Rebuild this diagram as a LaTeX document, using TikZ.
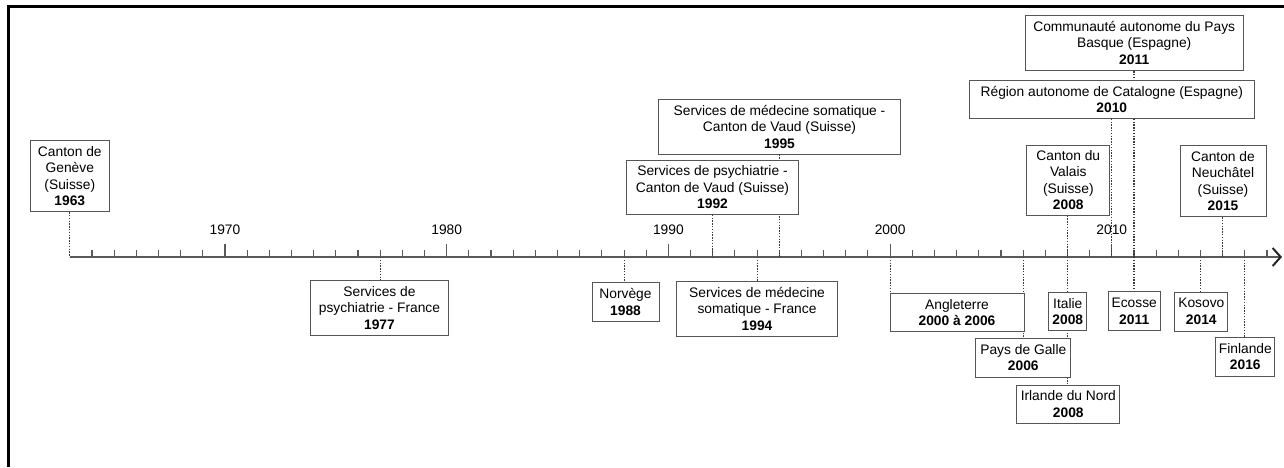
\documentclass[tikz,border=0pt]{standalone}
\usepackage{fontspec}
\setmainfont{Liberation Sans}
\usetikzlibrary{arrows.meta}
\pgfdeclarelayer{bg}
\pgfsetlayers{bg,main}
\definecolor{boxc}{HTML}{555555}
\definecolor{axc}{HTML}{5A5A5A}
\definecolor{conc}{HTML}{3A3A3A}
\newcommand{\boxfont}{\fontsize{13.8}{16.4}\selectfont}
\begin{document}
\begin{tikzpicture}[x=1pt,y=-1pt,
  box/.style={draw=boxc, fill=white, line width=1pt, inner sep=0pt, align=center, font=\boxfont},
  conn/.style={draw=conc, line width=1.1pt, dash pattern=on 1.4pt off 1.4pt},
  axisline/.style={draw=axc, line width=1.6pt},
  tickline/.style={draw=axc, line width=1.1pt},
  yearlab/.style={font=\boxfont, inner sep=0pt}
]
\useasboundingbox (0,0) rectangle (1284,467);
% frame
\draw[line width=2.6pt] (8.6,467) -- (8.6,6.6) -- (1284,6.6);

% axis coordinates
\foreach \yr in {1963,1977,1988,1992,1994,1995,2000,2006,2008,2010,2011,2014,2015,2016}
  \coordinate (y\yr) at ({69.8+(\yr-1963)*22.17},257);
\coordinate (axisend) at (1282,257);

% boxes
\node[box, minimum width=78.6, minimum height=71] (gen) at (69.8,176.2) {Canton de\\Genève\\(Suisse)\\\textbf{1963}};
\node[box, minimum width=137.6, minimum height=54.3] (psyF) at (379.5,307.9) {Services de\\psychiatrie - France\\\textbf{1977}};
\node[box, minimum width=242.4, minimum height=54.7] (vaudS) at (779.5,126.7) {Services de médecine somatique -\\Canton de Vaud (Suisse)\\\textbf{1995}};
\node[box, minimum width=171.6, minimum height=54.3] (vaudP) at (712.5,187.2) {Services de psychiatrie -\\Canton de Vaud (Suisse)\\\textbf{1992}};
\node[box, minimum width=67, minimum height=39] (norv) at (625.5,302) {Norvège\\\textbf{1988}};
\node[box, minimum width=160.6, minimum height=54.3] (medF) at (757,308.9) {Services de médecine\\somatique - France\\\textbf{1994}};
\node[box, minimum width=218.3, minimum height=55.7] (basque) at (1134.2,42.9) {Communauté autonome du Pays\\Basque (Espagne)\\\textbf{2011}};
\node[box, minimum width=285, minimum height=37.6] (catal) at (1111.8,99.5) {Région autonome de Catalogne (Espagne)\\\textbf{2010}};
\node[box, minimum width=83.3, minimum height=70] (valais) at (1068.3,180) {Canton du\\Valais\\(Suisse)\\\textbf{2008}};
\node[box, minimum width=86, minimum height=71] (neuch) at (1223,181.2) {Canton de\\Neuchâtel\\(Suisse)\\\textbf{2015}};
\node[box, minimum width=134, minimum height=38.4] (angl) at (957,312.5) {Angleterre\\\textbf{2000 à 2006}};
\node[box, minimum width=94.7, minimum height=39] (galles) at (1023.3,357.8) {Pays de Galle\\\textbf{2006}};
\node[box, minimum width=103.3, minimum height=38.3] (irl) at (1068.3,404.2) {Irlande du Nord\\\textbf{2008}};
\node[box, minimum width=37.7, minimum height=38.4] (ital) at (1067.8,311.5) {Italie\\\textbf{2008}};
\node[box, minimum width=51.7, minimum height=39] (ecosse) at (1134.2,311.2) {Ecosse\\\textbf{2011}};
\node[box, minimum width=52.7, minimum height=39] (kosovo) at (1201.3,311.5) {Kosovo\\\textbf{2014}};
\node[box, minimum width=59.3, minimum height=38.7] (finl) at (1245.3,356.7) {Finlande\\\textbf{2016}};

% decade labels
\foreach \d in {1970,1980,1990,2000,2010}
  \node[yearlab] (lab\d) at ({69.8+(\d-1963)*22.17},230) {\d};

\begin{pgfonlayer}{bg}
  % ticks
  \foreach \t in {1964,...,2017}
    \draw[tickline] ({69.8+(\t-1963)*22.17},257) -- ++(0,-7);
  \foreach \d in {1970,1980,1990,2000,2010}
    \draw[tickline] ({69.8+(\d-1963)*22.17},257) -- ++(0,-13);
  % axis
  \draw[axisline, -{Straight Barb[length=8pt,width=18pt,line width=2pt,color=black!85]}] (y1963) -- (axisend);
  % connectors
  \draw[conn] (y1963 |- gen.south) -- (y1963);
  \draw[conn] (y1977) -- (y1977 |- psyF.north);
  \draw[conn] (y1988) -- (y1988 |- norv.north);
  \draw[conn] (y1992 |- vaudP.south) -- (y1992);
  \draw[conn] (y1994) -- (y1994 |- medF.north);
  \draw[conn] (y1995 |- vaudS.south) -- (y1995);
  \draw[conn] (y2000) -- (y2000 |- angl.north);
  \draw[conn] (y2006) -- (y2006 |- galles.north);
  \draw[conn] (y2008 |- valais.south) -- (y2008);
  \draw[conn] (y2008) -- (y2008 |- irl.north);
  \draw[conn] (y2010 |- catal.south) -- (y2010);
  \draw[conn] (y2011 |- basque.south) -- (y2011);
  \draw[conn] (y2011) -- (y2011 |- ecosse.north);
  \draw[conn] (y2014) -- (y2014 |- kosovo.north);
  \draw[conn] (y2015 |- neuch.south) -- (y2015);
  \draw[conn] (y2016) -- (y2016 |- finl.north);
\end{pgfonlayer}
\end{tikzpicture}
\end{document}
